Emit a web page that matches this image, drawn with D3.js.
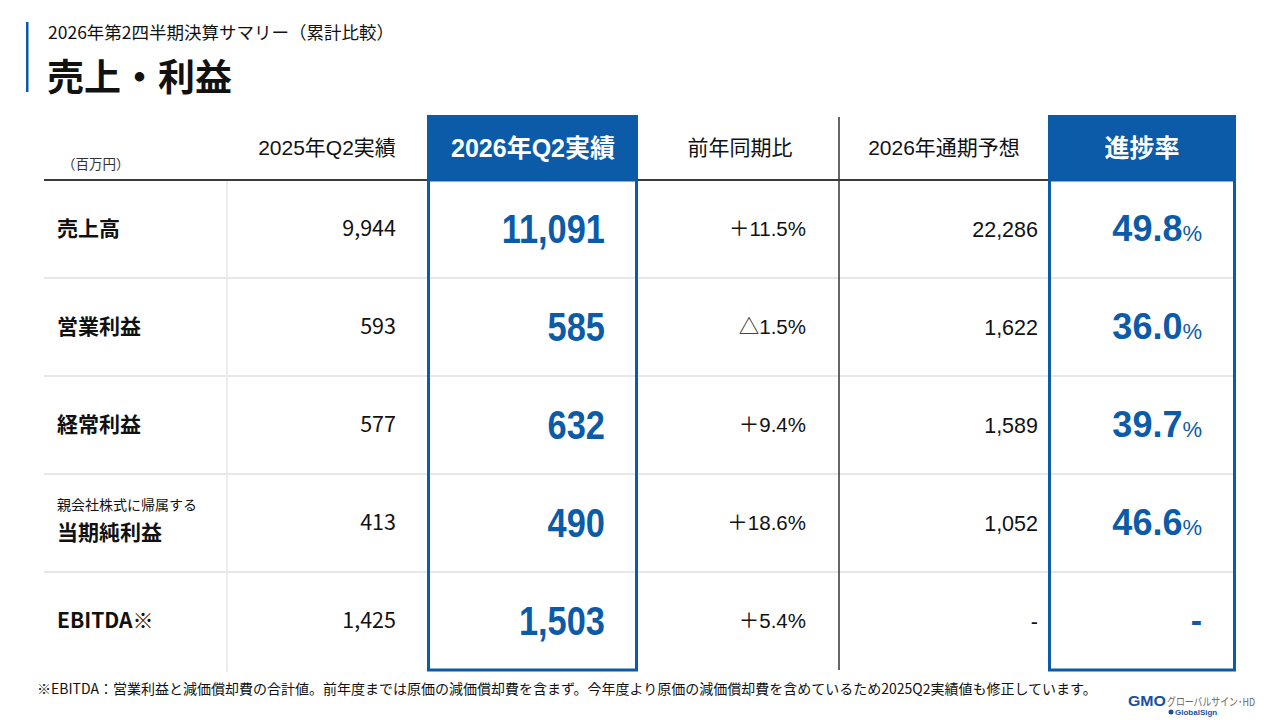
<!DOCTYPE html>
<html><head><meta charset="utf-8">
<script src="https://cdn.jsdelivr.net/npm/d3@7"></script>
<style>
html,body{margin:0;padding:0;background:#fff;}
svg{display:block;}
</style></head>
<body>
<svg id="c" width="1280" height="720"></svg>
<script>
// ---- data ----
const categories = ["売上高","営業利益","経常利益","当期純利益","EBITDA※"];
const categoryNotes = ["","","","親会社株式に帰属する",""];
const columns = ["2025年Q2実績","2026年Q2実績","前年同期比","2026年通期予想","進捗率"];
const prevActual = [9944, 593, 577, 413, 1425];
const currActual = [11091, 585, 632, 490, 1503];
const yoyChange = ["＋11.5%","△1.5%","＋9.4%","＋18.6%","＋5.4%"];
const forecast = [22286, 1622, 1589, 1052, null];
const progress = [49.8, 36.0, 39.7, 46.6, null];
const subtitle = "2026年第2四半期決算サマリー（累計比較）";
const title = "売上・利益";
const unitLabel = "（百万円）";
const footnote = "※EBITDA：営業利益と減価償却費の合計値。前年度までは原価の減価償却費を含まず。今年度より原価の減価償却費を含めているため2025Q2実績値も修正しています。";

// ---- drawing ----
const BLUE = "#0b5ba8";
const JP = "'Noto Sans CJK JP','Noto Sans',sans-serif";
const AR = "'Liberation Sans',Arial,sans-serif";
const HD = "'Liberation Sans','Noto Sans CJK JP',sans-serif";
const svg = d3.select("#c");
const fmt = d3.format(",");

// header
svg.append("rect").attr("x",26).attr("y",22).attr("width",2.5).attr("height",70).attr("fill",BLUE);
svg.append("text").attr("x",48).attr("y",39).attr("font-family",JP).attr("font-size",17.5).attr("fill","#111").text(subtitle);
svg.append("text").attr("x",47).attr("y",91).attr("font-family",JP).attr("font-weight",700).attr("font-size",37).attr("fill","#111").text(title);

// row scale
const y = d3.scaleBand().domain(categories).range([180,670]).paddingInner(0).paddingOuter(0);
const colX = { label:57, c1:396, c2:605, c3:806, c4:1038, c5:1202 };
const headCenter = [327, 533, 740, 944, 1142];
const boxes = [{x0:427,x1:638},{x0:1048,x1:1236}];

// row separators
categories.forEach((c,i)=>{
  if(i>0) svg.append("line").attr("x1",44).attr("x2",1236)
    .attr("y1",y(c)).attr("y2",y(c)).attr("stroke","#e5e7ea").attr("stroke-width",2);
});
// light vertical line after labels
svg.append("line").attr("x1",227).attr("x2",227).attr("y1",181).attr("y2",672).attr("stroke","#e5e7ea").attr("stroke-width",1.5);
// dark vertical line
svg.append("line").attr("x1",839).attr("x2",839).attr("y1",117).attr("y2",670).attr("stroke","#333").attr("stroke-width",1.5);
// header line
svg.append("line").attr("x1",44).attr("x2",1236).attr("y1",180).attr("y2",180).attr("stroke","#3a3a3a").attr("stroke-width",2);

// blue header boxes + borders
boxes.forEach(b=>{
  svg.append("rect").attr("x",b.x0).attr("y",115).attr("width",b.x1-b.x0).attr("height",65).attr("fill",BLUE);
  svg.append("rect").attr("x",b.x0+1.5).attr("y",180).attr("width",b.x1-b.x0-3).attr("height",490)
    .attr("fill","none").attr("stroke",BLUE).attr("stroke-width",3);
});

// unit label
svg.append("text").attr("x",62).attr("y",169).attr("font-family",JP).attr("font-size",13.5).attr("fill","#333").text(unitLabel);

// column headers
columns.forEach((t,i)=>{
  const hl = (i===1||i===4);
  svg.append("text").attr("x",headCenter[i]).attr("y",hl?157:155)
    .attr("text-anchor","middle").attr("font-family",HD)
    .attr("font-weight",hl?700:400).attr("font-size",hl?25:21)
    .attr("fill",hl?"#fff":"#111").text(t);
});

// rows
categories.forEach((c,i)=>{
  const cy = y(c) + y.bandwidth()/2;
  if(categoryNotes[i]){
    svg.append("text").attr("x",colX.label).attr("y",cy-13).attr("font-family",JP).attr("font-size",14).attr("fill","#111").text(categoryNotes[i]);
    svg.append("text").attr("x",colX.label).attr("y",cy+17).attr("font-family",JP).attr("font-weight",700).attr("font-size",21).attr("fill","#111").text(c);
  } else {
    svg.append("text").attr("x",colX.label).attr("y",cy+7).attr("font-family",JP).attr("font-weight",700).attr("font-size",21).attr("fill","#111").text(c);
  }
  svg.append("text").attr("x",colX.c1).attr("y",cy+7).attr("text-anchor","end").attr("font-family",JP).attr("font-size",21.5).attr("fill","#111").text(fmt(prevActual[i]));
  svg.append("text").attr("transform",`translate(${colX.c2},${cy+14}) scale(0.86,1)`)
    .attr("text-anchor","end").attr("font-family",AR).attr("font-weight",700).attr("font-size",40).attr("fill",BLUE).text(fmt(currActual[i]));
  svg.append("text").attr("x",colX.c3).attr("y",cy+7).attr("text-anchor","end").attr("font-family",HD).attr("font-size",20.5).attr("fill","#111").text(yoyChange[i]);
  svg.append("text").attr("x",colX.c4).attr("y",cy+8).attr("text-anchor","end").attr("font-family",AR).attr("font-size",21.5).attr("fill","#111").text(forecast[i]==null?"-":fmt(forecast[i]));
  if(progress[i]==null){
    svg.append("text").attr("x",colX.c5).attr("y",cy+11).attr("text-anchor","end").attr("font-family",AR).attr("font-weight",700).attr("font-size",34).attr("fill",BLUE).text("-");
  } else {
    const t = svg.append("text").attr("x",colX.c5).attr("y",cy+12).attr("text-anchor","end").attr("font-family",AR).attr("font-weight",700).attr("fill",BLUE);
    t.append("tspan").attr("font-size",36).text(progress[i].toFixed(1));
    t.append("tspan").attr("font-size",22).attr("font-weight",400).text("%");
  }
});

// footnote
svg.append("text").attr("x",37).attr("y",694).attr("font-family",JP).attr("font-size",14).attr("fill","#111").text(footnote);

// logo
const lg = svg.append("g");
lg.append("text").attr("x",1128).attr("y",706).attr("font-family",AR).attr("font-weight",900).attr("font-size",14.5).attr("fill","#1a4fa0").attr("textLength",38).attr("lengthAdjust","spacingAndGlyphs").text("GMO");
lg.append("text").attr("x",1167).attr("y",706).attr("font-family",JP).attr("font-size",11).attr("fill","#666").attr("textLength",88).attr("lengthAdjust","spacingAndGlyphs").text("グローバルサイン･HD");
lg.append("circle").attr("cx",1171).attr("cy",712).attr("r",2.5).attr("fill","#1a4fa0");
lg.append("text").attr("x",1175).attr("y",715).attr("font-family",AR).attr("font-weight",700).attr("font-size",8).attr("fill","#1a4fa0").text("GlobalSign");
</script>
</body></html>
